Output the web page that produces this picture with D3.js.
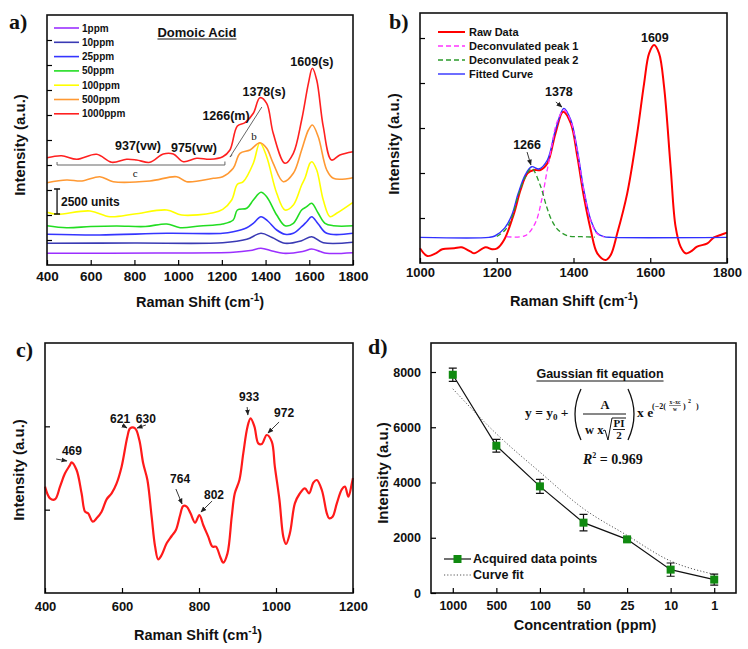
<!DOCTYPE html>
<html><head><meta charset="utf-8">
<script src="https://cdn.jsdelivr.net/npm/d3@7"></script>
<style>
body{margin:0;background:#fff}
svg text{font-family:"Liberation Sans",Arial,sans-serif;font-weight:bold;fill:#111}
svg text.serif{font-family:"Liberation Serif","Times New Roman",serif}
</style></head><body>
<script>
// ---------------- DATA ----------------
// Panel a: stacked SERS spectra (Raman shift, offset intensity)
const aLabels = ['1ppm','10ppm','25ppm','50ppm','100ppm','500ppm','1000ppm'];
const spec1 = [[400,1170],[900,1200],[1252,1270],[1330,1450],[1379,1670],[1430,1400],[1481,1170],[1570,1350],[1611,1600],[1650,1350],[1680,1170],[1800,1230]];
const spec10 = [[400,2170],[800,2200],[1204,2230],[1314,2570],[1379,3170],[1430,2750],[1489,2170],[1565,2430],[1611,2830],[1664,2230],[1800,2270]];
const spec25 = [[400,3070],[640,3000],[948,3170],[1204,3170],[1252,3330],[1314,3730],[1344,4170],[1379,4830],[1410,4400],[1451,3500],[1489,3070],[1527,3170],[1565,3830],[1588,4330],[1611,4830],[1641,4100],[1680,3170],[1800,3170]];
const spec50 = [[400,3930],[490,3730],[600,3850],[719,3900],[850,3850],[948,4100],[1009,3730],[1100,3900],[1204,4100],[1252,4500],[1271,5500],[1314,5670],[1344,6500],[1379,7270],[1405,6830],[1451,5000],[1489,3930],[1527,4170],[1565,5500],[1588,5830],[1611,6170],[1641,5170],[1672,4170],[1710,3930],[1800,3930]];
const spec100 = [[400,5270],[444,5070],[597,5400],[688,4830],[800,5100],[948,5500],[1016,5000],[1161,5230],[1204,5570],[1245,6500],[1271,8070],[1298,8330],[1344,10170],[1374,12230],[1405,10830],[1451,7170],[1489,5500],[1527,6000],[1565,8000],[1580,8670],[1603,10170],[1612,10330],[1634,9500],[1664,6500],[1695,4830],[1725,5170],[1800,6270]];
const spec500 = [[400,8230],[490,8500],[560,8400],[642,8830],[703,8330],[871,8400],[993,8830],[1039,8330],[1161,8670],[1204,8830],[1252,9670],[1283,11170],[1329,11500],[1374,12230],[1405,11670],[1435,10170],[1481,8330],[1527,9170],[1565,11500],[1596,13500],[1614,14000],[1641,12830],[1680,9500],[1710,8670],[1800,8730]];
const spec1000 = [[400,10730],[467,10930],[536,10570],[627,11070],[696,10270],[764,10570],[810,10500],[871,10270],[932,11100],[978,11100],[1024,10330],[1085,10670],[1146,10570],[1204,10830],[1237,11500],[1271,13900],[1306,14230],[1344,15170],[1374,16730],[1405,16170],[1435,13170],[1489,10170],[1527,11170],[1565,14500],[1596,18170],[1614,19670],[1634,18500],[1664,13830],[1702,10500],[1740,11000],[1800,11330]];
const aSeries = [spec1, spec10, spec25, spec50, spec100, spec500, spec1000];
const aColors = ['#9b30ff','#3a3ab4','#3535ff','#22dd22','#ffff00','#ff9933','#ff2020'];
const aXTicks = [400,600,800,1000,1200,1400,1600,1800];
const aYTicks = [2500,5000,7500,10000,12500,15000,17500,20000,22500];

// Panel b: raw data and Gaussian deconvolution
const bRaw = [[1000,326],[1019,155],[1041,215],[1058,304],[1089,326],[1108,348],[1132,252],[1141,215],[1171,348],[1188,304],[1201,326],[1219,511],[1245,1104],[1262,1622],[1280,1992],[1297,2066],[1314,2066],[1332,2215],[1353,2881],[1373,3363],[1393,3103],[1410,2363],[1427,1474],[1445,733],[1462,215],[1484,67],[1497,178],[1514,659],[1540,1548],[1566,2881],[1584,3992],[1597,4659],[1610,4844],[1623,4659],[1636,3918],[1653,2140],[1666,807],[1679,363],[1692,215],[1705,252],[1722,363],[1749,437],[1766,570],[1783,622],[1800,674]];
const bPeak1 = [[1226,585],[1274,607],[1300,881],[1317,1400],[1330,1993],[1343,2585],[1356,3104],[1375,3400],[1393,3150],[1410,2480],[1427,1600],[1445,940],[1462,650],[1479,585]];
const bPeak2 = [[1200,590],[1222,733],[1239,1000],[1256,1500],[1274,1900],[1291,2104],[1313,1733],[1330,1251],[1343,955],[1360,733],[1387,600],[1421,585],[1456,575]];
const bFit = [[1000,570],[1180,570],[1195,600],[1221,780],[1239,1060],[1256,1548],[1274,1955],[1291,2140],[1310,2090],[1332,2289],[1353,2955],[1375,3437],[1393,3177],[1410,2511],[1427,1622],[1445,955],[1462,659],[1479,585],[1500,570],[1800,570]];
const bLabels = ['Raw Data','Deconvulated peak 1','Deconvulated peak 2','Fitted Curve'];
const bXTicks = [1000,1200,1400,1600,1800];
const bYTicks = [1000,2000,3000,4000,5000];

// Panel c: fingerprint region
const cData = [[400,1276],[413,1136],[426,1124],[439,1276],[452,1436],[465,1536],[469,1568],[482,1476],[495,1196],[504,976],[512,956],[524,856],[534,896],[547,976],[560,1124],[573,1196],[586,1316],[599,1516],[614,1876],[621,1976],[634,1976],[645,1836],[655,1556],[666,1356],[677,916],[686,556],[694,404],[703,456],[716,596],[729,684],[740,756],[751,936],[759,1044],[768,1036],[778,956],[790,844],[801,936],[811,816],[824,676],[835,556],[844,556],[855,436],[863,364],[874,476],[885,916],[893,1196],[905,1356],[915,1676],[926,1996],[934,2096],[944,1996],[954,1796],[963,1788],[976,1896],[989,1816],[997,1516],[1009,1116],[1019,676],[1026,588],[1036,716],[1049,1076],[1061,1188],[1075,1256],[1086,1196],[1097,1324],[1106,1356],[1119,1236],[1132,956],[1138,896],[1147,916],[1158,1076],[1171,1244],[1179,1276],[1188,1156],[1197,1316],[1200,1380]];
const cXTicks = [400,600,800,1000,1200];
const cYTicks = [1000,2000];
const cPeaks = ['469','621','630','764','802','933','972'];

// Panel d: calibration
const dConc = ['1000','500','100','50','25','10','1'];
const dIntensity = [7900,5330,3860,2546,1942,846,485];
const dError = [240,230,250,300,80,240,200];
const dFit = [7392,5765,4376,3052,2087,1157,676];
const dYTicks = [0,2000,4000,6000,8000];

// ---------------- DRAW ----------------
const W = 748, H = 649;
const svg = d3.select('body').append('svg').attr('width', W).attr('height', H);
const defs = svg.append('defs');
defs.append('marker').attr('id','ah').attr('viewBox','0 0 10 10').attr('refX',9).attr('refY',5)
  .attr('markerWidth',6).attr('markerHeight',6).attr('markerUnits','userSpaceOnUse').attr('orient','auto')
  .append('path').attr('d','M0,1L10,5L0,9z').attr('fill','#222');

function frame(x, y) {
  const [x0, x1] = x.range(), [y0, y1] = y.range();
  svg.append('rect').attr('x', x0).attr('y', y1).attr('width', x1 - x0).attr('height', y0 - y1)
    .attr('fill', 'none').attr('stroke', '#111').attr('stroke-width', 1.6);
}
function axes(x, y, xTicks, yTicks, o) {
  const [x0] = x.range(), [y0] = y.range();
  const ax = d3.axisBottom(x).tickSizeInner(-5).tickSizeOuter(0).tickPadding(o.xpad);
  if (xTicks) ax.tickValues(xTicks);
  ax.tickFormat(o.xfmt || (d => d));
  const gx = svg.append('g').attr('transform', `translate(0,${y0})`).call(ax);
  gx.select('.domain').remove();
  gx.attr('font-size', o.fs).attr('font-family', null);
  gx.selectAll('line').attr('stroke-width', 1.2);
  const ay = d3.axisLeft(y).tickValues(yTicks).tickSizeInner(-5).tickSizeOuter(0).tickPadding(o.ypad || 4)
    .tickFormat(o.yfmt || (() => ''));
  const gy = svg.append('g').attr('transform', `translate(${x0},0)`).call(ay);
  gy.select('.domain').remove();
  gy.attr('font-size', o.fs).attr('font-family', null);
  gy.selectAll('line').attr('stroke-width', 1.2);
}
function ramanTitle(cx, by, txt) {
  const t = svg.append('text').attr('x', cx).attr('y', by).attr('text-anchor', 'middle').style('font-size', '14.5px');
  t.append('tspan').text(txt || 'Raman Shift (cm');
  t.append('tspan').attr('dy', -6).style('font-size', '10px').text('-1');
  t.append('tspan').attr('dy', 6).text(')');
}
function yTitle(bx, cy, txt) {
  svg.append('text').attr('transform', `translate(${bx},${cy}) rotate(-90)`).attr('text-anchor', 'middle')
    .style('font-size', '15px').text(txt);
}
function panelLetter(x, y, t) {
  svg.append('text').attr('class', 'serif').attr('x', x).attr('y', y).style('font-size', '22px').text(t);
}
function label(x, y, t, fs, anchor) {
  return svg.append('text').attr('x', x).attr('y', y).attr('dy', '0.35em').attr('text-anchor', anchor || 'middle')
    .style('font-size', fs + 'px').text(t);
}
function arrow(p, q, w) {
  svg.append('line').attr('x1', p[0]).attr('y1', p[1]).attr('x2', q[0]).attr('y2', q[1])
    .attr('stroke', '#222').attr('stroke-width', w || 0.9).attr('marker-end', 'url(#ah)');
}

// ===== Panel a =====
{
  const x = d3.scaleLinear().domain([400, 1800]).range([47, 353]);
  const y = d3.scaleLinear().domain([0, 25000]).range([265, 15]);
  const line = d3.line().x(d => x(d[0])).y(d => y(d[1])).curve(d3.curveCatmullRom.alpha(0.5));
  aSeries.forEach((s, i) => {
    svg.append('path').datum(s).attr('d', line).attr('fill', 'none').attr('stroke', aColors[i]).attr('stroke-width', 1.6);
  });
  frame(x, y);
  axes(x, y, aXTicks, aYTicks, {xpad: 6, fs: 13.5});
  ramanTitle(200, 307);
  yTitle(25, 145, 'Intensity (a.u.)');
  panelLetter(9, 29, 'a)');
  // legend
  aLabels.forEach((l, i) => {
    const yy = 28 + i * 14.3;
    svg.append('line').attr('x1', 54).attr('x2', 79).attr('y1', yy).attr('y2', yy).attr('stroke', aColors[i]).attr('stroke-width', 1.6);
    label(82, yy, l, 10, 'start');
  });
  // title
  const tt = label(x(1086), y(23300), 'Domoic Acid', 13);
  const tw = tt.node().getComputedTextLength();
  svg.append('line').attr('x1', x(1086) - tw / 2).attr('x2', x(1086) + tw / 2).attr('y1', y(23300) + 7).attr('y2', y(23300) + 7).attr('stroke', '#111').attr('stroke-width', 1.2);
  // peak labels
  label(x(1612), y(20300), '1609(s)', 12.5);
  label(x(1393), y(17300), '1378(s)', 12.5);
  label(x(1219), y(14900), '1266(m)', 12.5);
  label(x(816), y(11900), '937(vw)', 12.5);
  label(x(1072), y(11700), '975(vw)', 12.5);
  // b line
  svg.append('path').attr('d', `M${x(1248)},${y(11000)} L${x(1237)},${y(10800)} L${x(1383)},${y(15800)}`)
    .attr('fill', 'none').attr('stroke', '#555').attr('stroke-width', 0.9);
  svg.append('text').attr('class', 'serif').attr('x', x(1347)).attr('y', y(12900)).attr('dy', '0.35em').attr('text-anchor', 'middle')
    .style('font-size', '11px').style('font-weight', 'normal').text('b');
  // c bracket
  svg.append('path').attr('d', `M${x(446)},${y(10300)} V${y(10000)} H${x(1214)} V${y(10350)}`)
    .attr('fill', 'none').attr('stroke', '#666').attr('stroke-width', 1);
  svg.append('text').attr('class', 'serif').attr('x', x(803)).attr('y', y(9200)).attr('dy', '0.35em').attr('text-anchor', 'middle')
    .style('font-size', '11px').style('font-weight', 'normal').text('c');
  // scale bar 2500 units
  const bx = x(446);
  svg.append('path').attr('d', `M${bx - 3},${y(7600)} H${bx + 3} M${bx},${y(7600)} V${y(5100)} M${bx - 3},${y(5100)} H${bx + 3}`)
    .attr('stroke', '#111').attr('stroke-width', 1.3).attr('fill', 'none');
  label(x(464), y(6350), '2500 units', 12, 'start');
}

// ===== Panel b =====
{
  const x = d3.scaleLinear().domain([1000, 1800]).range([420, 727]);
  const y = d3.scaleLinear().domain([0, 5556]).range([263, 13]);
  const line = d3.line().x(d => x(d[0])).y(d => y(d[1])).curve(d3.curveCatmullRom.alpha(0.5));
  svg.append('path').datum(bRaw).attr('d', line).attr('fill', 'none').attr('stroke', '#ff0000').attr('stroke-width', 2);
  svg.append('path').datum(bFit).attr('d', line).attr('fill', 'none').attr('stroke', '#3030ff').attr('stroke-width', 1.4);
  svg.append('path').datum(bPeak1).attr('d', line).attr('fill', 'none').attr('stroke', '#ff33ff').attr('stroke-width', 1.3).attr('stroke-dasharray', '5,3');
  svg.append('path').datum(bPeak2).attr('d', line).attr('fill', 'none').attr('stroke', '#2a9a2a').attr('stroke-width', 1.3).attr('stroke-dasharray', '5,3');
  frame(x, y);
  axes(x, y, bXTicks, bYTicks, {xpad: 5, fs: 13});
  ramanTitle(574, 306);
  yTitle(399, 144, 'Intensity (a.u.)');
  panelLetter(389, 29, 'b)');
  const st = [{c: '#ff0000', w: 2, d: null}, {c: '#ff33ff', w: 1.3, d: '5,3'}, {c: '#2a9a2a', w: 1.3, d: '5,3'}, {c: '#3030ff', w: 1.4, d: null}];
  bLabels.forEach((l, i) => {
    const yy = 32 + i * 14;
    svg.append('line').attr('x1', 438).attr('x2', 465).attr('y1', yy).attr('y2', yy).attr('stroke', st[i].c).attr('stroke-width', st[i].w).attr('stroke-dasharray', st[i].d);
    label(469, yy, l, 11, 'start');
  });
  label(x(1612), y(5000), '1609', 12.5);
  label(x(1362), y(3800), '1378', 12.5);
  arrow([x(1354), y(3578)], [x(1370), y(3467)]);
  label(x(1279), y(2622), '1266', 12.5);
  arrow([x(1279), y(2466)], [x(1289), y(2178)]);
}

// ===== Panel c =====
{
  const x = d3.scaleLinear().domain([400, 1200]).range([45, 353]);
  const y = d3.scaleLinear().domain([0, 3000]).range([593, 343]);
  const line = d3.line().x(d => x(d[0])).y(d => y(d[1])).curve(d3.curveCatmullRom.alpha(0.5));
  svg.append('path').datum(cData).attr('d', line).attr('fill', 'none').attr('stroke', '#ff1a1a').attr('stroke-width', 2.2);
  frame(x, y);
  axes(x, y, cXTicks, cYTicks, {xpad: 9, fs: 13});
  ramanTitle(198, 640);
  yTitle(24, 470, 'Intensity (a.u.)');
  panelLetter(16, 357, 'c)');
  const pos = [[470,1704],[595,2088],[662,2088],[751,1368],[839,1176],[930,2352],[1021,2160]];
  const arr = [[[429,1608],[457,1584]],[[600,2016],[613,1980]],[[662,2016],[639,1980]],[[740,1248],[756,1068]],[[834,1104],[805,972]],[[925,2232],[927,2136]],[[1008,2052],[979,1920]]];
  cPeaks.forEach((p, i) => {
    label(x(pos[i][0]), y(pos[i][1]), p, 12);
    arrow([x(arr[i][0][0]), y(arr[i][0][1])], [x(arr[i][1][0]), y(arr[i][1][1])]);
  });
}

// ===== Panel d =====
{
  const x = d3.scalePoint().domain(dConc).range([431, 736]).padding(0.5);
  const y = d3.scaleLinear().domain([0, 9050]).range([593, 343]);
  const pts = dConc.map((c, i) => ({c, v: dIntensity[i], e: dError[i], f: dFit[i]}));
  const fitLine = d3.line().x(d => x(d.c)).y(d => y(d.f)).curve(d3.curveMonotoneX);
  const dataLine = d3.line().x(d => x(d.c)).y(d => y(d.v));
  svg.append('path').datum(pts).attr('d', fitLine).attr('fill', 'none').attr('stroke', '#555').attr('stroke-width', 1).attr('stroke-dasharray', '1.2,2');
  svg.append('path').datum(pts).attr('d', dataLine).attr('fill', 'none').attr('stroke', '#111').attr('stroke-width', 1.2);
  const eb = svg.append('g');
  pts.forEach(d => {
    const cx = x(d.c);
    eb.append('path').attr('d', `M${cx - 4},${y(d.v + d.e)} H${cx + 4} M${cx},${y(d.v + d.e)} V${y(d.v - d.e)} M${cx - 4},${y(d.v - d.e)} H${cx + 4}`)
      .attr('stroke', '#111').attr('stroke-width', 1.2).attr('fill', 'none');
  });
  svg.append('g').selectAll('rect').data(pts).join('rect')
    .attr('x', d => x(d.c) - 4).attr('y', d => y(d.v) - 4).attr('width', 8).attr('height', 8).attr('fill', '#108a10');
  frame(x, y);
  axes(x, y, null, dYTicks, {xpad: 8, fs: 12.5, ypad: 10, yfmt: d => d});
  svg.append('text').attr('x', 585).attr('y', 630).attr('text-anchor', 'middle').style('font-size', '14.5px').text('Concentration (ppm)');
  yTitle(388, 473, 'Intensity (a.u.)');
  panelLetter(368, 354, 'd)');
  // legend
  svg.append('line').attr('x1', 444).attr('x2', 471).attr('y1', 559).attr('y2', 559).attr('stroke', '#111').attr('stroke-width', 1.2);
  svg.append('rect').attr('x', 453.5).attr('y', 555).attr('width', 8).attr('height', 8).attr('fill', '#108a10');
  label(473, 559, 'Acquired data points', 12.5, 'start');
  svg.append('line').attr('x1', 444).attr('x2', 471).attr('y1', 575).attr('y2', 575).attr('stroke', '#555').attr('stroke-width', 1).attr('stroke-dasharray', '1.2,2');
  label(473, 575, 'Curve fit', 12.5, 'start');
  // equation block
  const g = label(600, 374, 'Gaussian fit equation', 12.5);
  const gw = g.node().getComputedTextLength();
  svg.append('line').attr('x1', 600 - gw / 2).attr('x2', 600 + gw / 2).attr('y1', 381).attr('y2', 381).attr('stroke', '#111').attr('stroke-width', 1);
  const S = (xx, yy, t, fs, anchor, style) => svg.append('text').attr('class', 'serif').attr('x', xx).attr('y', yy)
    .attr('text-anchor', anchor || 'start').style('font-size', fs + 'px').style('font-style', style || 'normal').text(t);
  const e1 = S(525, 417, 'y = y', 13.5);
  e1.append('tspan').attr('dy', 3).style('font-size', '9px').text('0');
  e1.append('tspan').attr('dy', -3).text(' +');
  svg.append('path').attr('d', 'M581,389 Q569,414 581,440').attr('fill', 'none').attr('stroke', '#111').attr('stroke-width', 1.3);
  svg.append('path').attr('d', 'M628,389 Q640,414 628,440').attr('fill', 'none').attr('stroke', '#111').attr('stroke-width', 1.3);
  S(605, 409, 'A', 12.5, 'middle');
  svg.append('line').attr('x1', 583).attr('x2', 626).attr('y1', 414).attr('y2', 414).attr('stroke', '#111').attr('stroke-width', 1);
  S(585, 434, 'w x', 12.5);
  svg.append('path').attr('d', 'M603,431 L605,430 L608,440 L612,418 L626,418').attr('fill', 'none').attr('stroke', '#111').attr('stroke-width', 1);
  S(619, 427, 'PI', 11, 'middle');
  svg.append('line').attr('x1', 613).attr('x2', 625).attr('y1', 429.5).attr('y2', 429.5).attr('stroke', '#111').attr('stroke-width', 0.9);
  S(619, 439, '2', 11, 'middle');
  S(637, 417, 'x e', 13.5);
  S(652, 409, '(\u22122(', 8);
  S(675, 404, 'x\u2212xc', 5.5, 'middle');
  svg.append('line').attr('x1', 669).attr('x2', 681).attr('y1', 405.5).attr('y2', 405.5).attr('stroke', '#111').attr('stroke-width', 0.5);
  S(675, 411, 'w', 5.5, 'middle');
  S(683, 409, ')', 8);
  S(688, 403, '2', 6);
  S(696, 409, ')', 8);
  const r = S(583, 464, 'R', 14, 'start', 'italic');
  r.append('tspan').attr('dy', -6).style('font-size', '8px').style('font-style', 'normal').text('2');
  r.append('tspan').attr('dy', 6).style('font-style', 'normal').text(' = 0.969');
}
</script>
</body></html>
